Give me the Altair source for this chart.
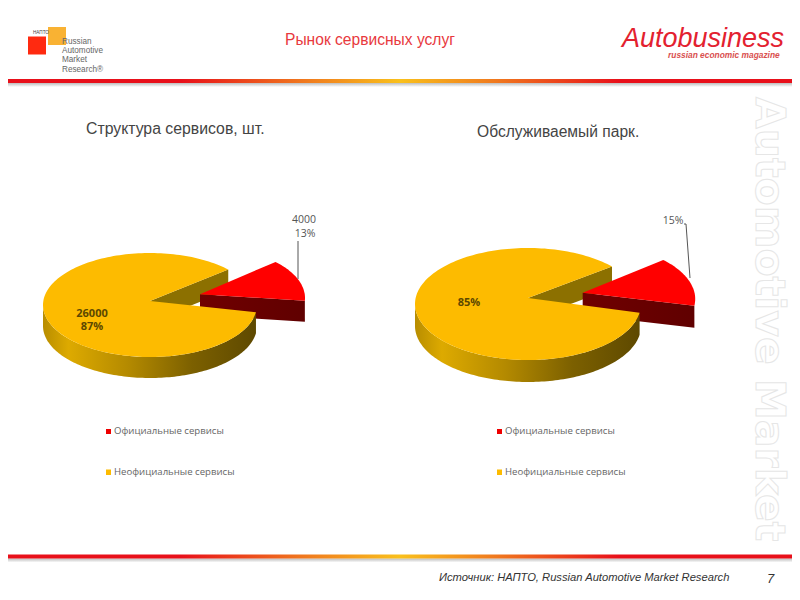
import math
import altair as alt
import pandas as pd

# ---- content ----
title = "Рынок сервисных услуг"
subtitles = ["Структура сервисов, шт.", "Обслуживаемый парк."]
legend_names = ["Официальные сервисы", "Неофициальные сервисы"]
left_labels = ["4000", "13%", "26000", "87%"]
right_labels = ["15%", "85%"]
logo_lines = ["Russian", "Automotive", "Market", "Research®"]
source = "Источник: НАПТО, Russian Automotive Market Research"

RED, DARKRED, GOLD, WALL = "#FF0000", "#660000", "#FDBB00", "#8C7000"

X = alt.Scale(domain=[8, 792], range=[0, 784], nice=False, zero=False)
Y = alt.Scale(domain=[8, 592], range=[0, 584], nice=False, zero=False)


def ex(f="x", **k):
    return alt.X(f"{f}:Q", scale=X, axis=None)


def ey(f="y"):
    return alt.Y(f"{f}:Q", scale=Y, axis=None)


def grad(stops, x1=0, x2=1):
    return alt.Gradient(
        gradient="linear", x1=x1, x2=x2, y1=0, y2=0,
        stops=[alt.GradientStop(offset=o, color=c) for o, c in stops],
    )


def poly(points, fill):
    pts = list(points) + [points[0]]
    df = pd.DataFrame(pts, columns=["x", "y"])
    df["i"] = range(len(df))
    return alt.Chart(df).mark_line(fill=fill, stroke=None, strokeWidth=0, clip=False).encode(
        x=ex(), y=ey(), order="i:Q"
    )


def arc(cx, cy, rx, ry, a0, a1, dy=0, n=60):
    out = []
    for k in range(n + 1):
        t = math.radians(a0 + (a1 - a0) * k / n)
        out.append((cx + rx * math.cos(t), cy - ry * math.sin(t) + dy))
    return out


SIDE = grad([(0, "#B88D00"), (0.12, "#DDAA00"), (0.4, "#B48A00"), (0.7, "#7C6000"), (1, "#5E4900")])
REDSIDE = grad([(0, "#700000"), (1, "#600000")])


def pie(cx, cy, rx, ry, depth, apex_dy, a_low, a_up,
        rcx, rcy, rrx, r_apex_x, r_apex_y, r_low, r_up):
    apex = (cx, cy + apex_dy)
    up = arc(cx, cy, rx, ry, a_up, a_up)[0]
    wall = [apex, up, (up[0], up[1] + depth), (apex[0], apex[1] + depth)]
    top = [apex] + arc(cx, cy, rx, ry, a_up, 360 + a_low, n=180)
    front_t = arc(cx, cy, rx, ry, a_low, -180, n=120)
    front = front_t + [(x, y + depth) for x, y in reversed(front_t)]
    rapex = (r_apex_x, r_apex_y)
    rlow = arc(rcx, rcy, rrx, ry, r_low, r_low)[0]
    rside = [rapex, rlow, (rlow[0], rlow[1] + depth), (rapex[0], rapex[1] + depth)]
    rtop = [rapex] + arc(rcx, rcy, rrx, ry, r_low, r_up, n=40)
    return [poly(wall, WALL), poly(rside, REDSIDE), poly(rtop, RED),
            poly(front, SIDE), poly(top, GOLD)]


def text(s, x, y, size, color="#333333", font="Liberation Sans", align="left",
         weight="normal", style="normal", **kw):
    df = pd.DataFrame({"x": [x], "y": [y], "t": [s]})
    return alt.Chart(df).mark_text(
        fontSize=size, color=color, font=font, align=align, baseline="middle",
        fontWeight=weight, fontStyle=style, **kw
    ).encode(x=ex(), y=ey(), text="t:N")


def rect(x0, x1, y0, y1, fill):
    df = pd.DataFrame({"x": [x0], "x2": [x1], "y": [y0], "y2": [y1]})
    return alt.Chart(df).mark_rect(color=fill).encode(
        x=ex(), x2="x2:Q", y=ey(), y2="y2:Q"
    )


def rule(x0, y0, x1, y1, color="#555555"):
    df = pd.DataFrame({"x": [x0], "x2": [x1], "y": [y0], "y2": [y1]})
    return alt.Chart(df).mark_rule(color=color, strokeWidth=1).encode(
        x=ex(), x2="x2:Q", y=ey(), y2="y2:Q"
    )


BAR = grad([(0, "#E8101A"), (0.22, "#E8101A"), (0.38, "#F07A1E"), (0.5, "#F9C01C"),
            (0.62, "#F07A1E"), (0.78, "#E8101A"), (1, "#E8101A")])
SHADOW = alt.Gradient(gradient="linear", x1=0, x2=0, y1=0, y2=1,
                      stops=[alt.GradientStop(offset=0, color="#BDBDBD"),
                             alt.GradientStop(offset=1, color="#FFFFFF")])

layers = []

# watermark
layers.append(text("Automotive Market", 768, 97, 41, color="#FFFFFF", font="DejaVu Sans",
                   weight="bold", angle=90, stroke="#E6E6E6", strokeWidth=1))

# bars
for y0 in (79, 554.5):
    layers.append(rect(8, 792, y0 + 4, y0 + 8, SHADOW))
    layers.append(rect(8, 792, y0, y0 + 4, BAR))

# logo
layers += [
    rect(28, 46, 36.5, 54.5, "#FF2A10"),
    rect(48, 66, 27, 45, "#F9B233"),
]
for s, y in zip(logo_lines, [41.5, 50.5, 60, 69.5]):
    layers.append(text(s, 62, y, 8.2, color="#666666"))
layers.append(text("НАПТО", 33, 33, 4.6, color="#444444"))

# header
layers += [
    text(title, 285, 40, 15.6, color="#E8393E"),
    text("Autobusiness", 622, 38.5, 27, color="#E3212F", style="italic"),
    text("russian economic magazine", 668, 55, 8.4, color="#D9504F", style="italic", weight="bold"),
    text(subtitles[0], 86, 128.5, 15.8, color="#444444"),
    text(subtitles[1], 477, 131.5, 15.6, color="#444444"),
]

# pies
layers += pie(150, 305, 107, 52, 21, -4, -8, 43,
              200, 298, 105, 200, 294.3, -3, 44)
layers += pie(528, 304, 113, 56, 22, -6, -9, 42,
              582.7, 299, 112.5, 582.7, 292.7, -7, 44.3)

# labels
LBL = "Open Sans"
layers += [
    rule(298, 241, 298, 279),
    text(left_labels[0], 304, 220, 10.5, color="#555555", font=LBL, align="center"),
    text(left_labels[1], 305, 234, 10.5, color="#555555", font=LBL, align="center"),
    text(left_labels[2], 92, 314, 11, color="#5C4800", font=LBL, align="center", weight="bold"),
    text(left_labels[3], 92, 327, 11, color="#5C4800", font=LBL, align="center", weight="bold"),
    rule(686, 224, 690, 278),
    rule(684, 224, 686, 224),
    text(right_labels[0], 673, 221, 10.5, color="#555555", font=LBL, align="center"),
    text(right_labels[1], 469, 303, 11, color="#5C4800", font=LBL, align="center", weight="bold"),
]

# legends
for sq_x, t_x in ((106, 114), (497, 505)):
    layers += [
        rect(sq_x, sq_x + 5, 429, 434, "#EE0000"),
        rect(sq_x, sq_x + 5, 469.5, 475, "#FDBB00"),
        text(legend_names[0], t_x, 431, 9.6, color="#666666", font=LBL),
        text(legend_names[1], t_x, 472, 9.6, color="#666666", font=LBL),
    ]

# footer
layers += [
    text(source, 439, 578, 11.2, color="#333333", style="italic"),
    text("7", 767, 579, 13, color="#333333", style="italic"),
]

chart = alt.layer(*layers).properties(
    width=784, height=584, padding=0,
    autosize=alt.AutoSizeParams(type="none"), background="#FFFFFF",
).configure_view(stroke=None)

chart.save("out.html", embed_options={"renderer": "svg", "actions": False})
